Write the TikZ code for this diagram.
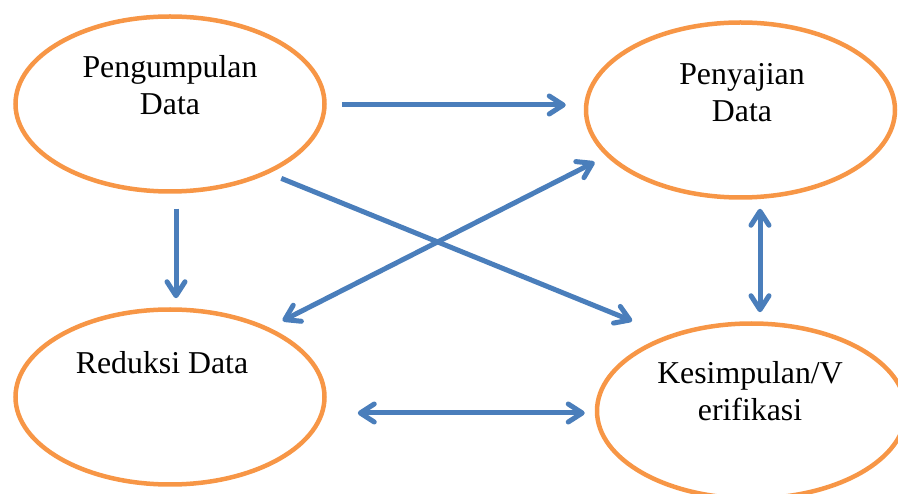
\documentclass[tikz,border=0pt]{standalone}
\usepackage{fontspec}
\setmainfont{Liberation Serif}
\usetikzlibrary{shapes.geometric,arrows.meta}
\definecolor{ovalorange}{HTML}{F79646}
\definecolor{flowblue}{HTML}{4A7EBB}
\begin{document}
\begin{tikzpicture}[x=1pt,y=-1pt,
		oval/.style={ellipse,draw=ovalorange,line width=4.5pt,minimum width=309pt,minimum height=175pt,inner sep=0pt},
		lbl/.style={align=center,inner sep=0pt,anchor=base,font=\fontsize{31.8}{37}\selectfont},
		flow/.style={draw=flowblue,line width=5pt,-{Straight Barb[length=14pt,width=18pt,round]}},
		twoway/.style={flow,{Straight Barb[length=14pt,width=18pt,round]}-{Straight Barb[length=14pt,width=18pt,round]}}]
	\useasboundingbox (0,0) rectangle (898,494);
	\clip (0,0) rectangle (898,494);
	% the four stages
	\node[oval] (pd) at (170,104) {};
	\node[oval] (pyd) at (740.5,110) {};
	\node[oval] (rd) at (170,397) {};
	\node[oval] (ks) at (751.5,411) {};
	\node[lbl] (pdtext) at (170,115) {Pengumpulan\\Data};
	\node[lbl] (pydtext) at (742,122) {Penyajian\\Data};
	\node[lbl] (rdtext) at (162,374) {Reduksi Data};
	\node[lbl] (kstext) at (750,421) {Kesimpulan/V\\erifikasi};
	% arrows
	\draw[flow,shorten <=15pt,shorten >=18pt] ([yshift=-1pt]pd.east) -- ([yshift=-1pt]pd.east -| pyd.west);
	\draw[flow,shorten <=15pt,shorten >=9pt] ([xshift=6pt]pd.south) -- ([xshift=6pt]pd.south |- rd.north);
	\draw[flow,shorten <=13pt,shorten >=38pt] (pd.-35.6) -- (ks.138.3);
	\draw[twoway,shorten <=15pt,shorten >=13pt] (rd.35.8) -- (pyd.199.4);
	\draw[twoway,shorten <=9pt,shorten >=9pt] ([xshift=19.5pt]pyd.south) -- ([xshift=19.5pt]pyd.south |- ks.north);
	\draw[twoway,shorten <=31pt,shorten >=10pt] ([yshift=-16pt]rd.east) -- ([yshift=-16pt]rd.east -| ks.west);
\end{tikzpicture}
\end{document}
